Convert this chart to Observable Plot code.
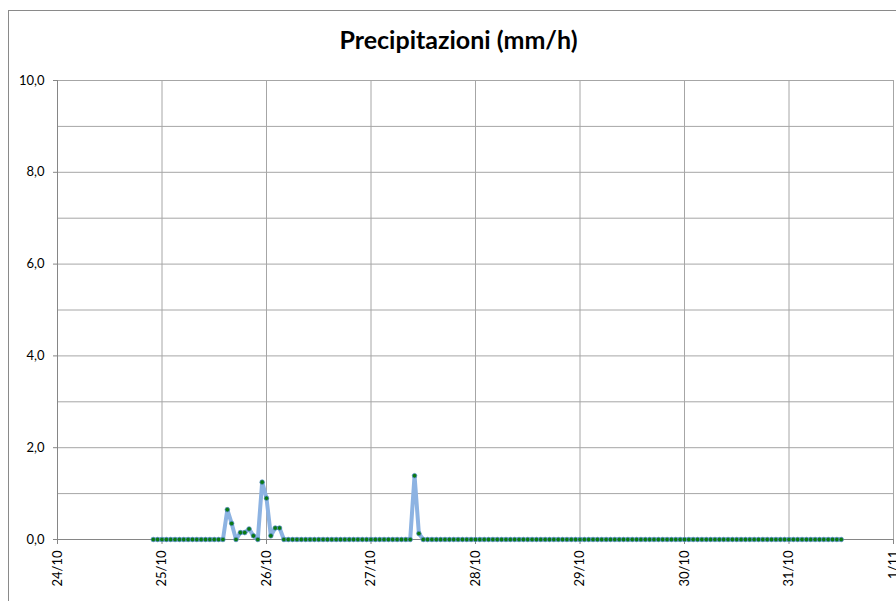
<!DOCTYPE html>
<html>
<head>
<meta charset="utf-8">
<script src="https://cdn.jsdelivr.net/npm/d3@7"></script>
<script src="https://cdn.jsdelivr.net/npm/@observablehq/plot@0.6"></script>
<style>
  html, body { margin: 0; padding: 0; background: #fff; overflow: hidden; }
  #wrap { position: relative; width: 896px; height: 601px; }
  #frame { position: absolute; left: 8px; top: 10px; width: 900px; height: 600px; border: 1px solid #8a8a8a; pointer-events: none; }
  #wrap svg { position: absolute; left: 0; top: 0; }
</style>
</head>
<body>
<div id="wrap"><div id="frame"></div></div>
<script>
// ---- data ----
const title = "Precipitazioni (mm/h)";
const year = 2012;
const dayLabels = ["24/10", "25/10", "26/10", "27/10", "28/10", "29/10", "30/10", "31/10", "1/11"];
const yTickValues = [0, 2, 4, 6, 8, 10];
const yGridValues = [1, 2, 3, 4, 5, 6, 7, 8, 9, 10];
const firstHour = "24/10 22:00";

// hourly precipitation (mm/h), from 24/10 22:00 to 31/10 12:00
const rain_24 = [0, 0];
const rain_25 = [0, 0, 0, 0, 0, 0, 0, 0, 0, 0, 0, 0, 0, 0, 0, 0.65, 0.35, 0, 0.15, 0.15, 0.23, 0.08, 0, 1.25];
const rain_26 = [0.9, 0.08, 0.25, 0.25, 0, 0, 0, 0, 0, 0, 0, 0, 0, 0, 0, 0, 0, 0, 0, 0, 0, 0, 0, 0];
const rain_27 = [0, 0, 0, 0, 0, 0, 0, 0, 0, 0, 1.39, 0.13, 0, 0, 0, 0, 0, 0, 0, 0, 0, 0, 0, 0];
const rain_28 = [0, 0, 0, 0, 0, 0, 0, 0, 0, 0, 0, 0, 0, 0, 0, 0, 0, 0, 0, 0, 0, 0, 0, 0];
const rain_29 = [0, 0, 0, 0, 0, 0, 0, 0, 0, 0, 0, 0, 0, 0, 0, 0, 0, 0, 0, 0, 0, 0, 0, 0];
const rain_30 = [0, 0, 0, 0, 0, 0, 0, 0, 0, 0, 0, 0, 0, 0, 0, 0, 0, 0, 0, 0, 0, 0, 0, 0];
const rain_31 = [0, 0, 0, 0, 0, 0, 0, 0, 0, 0, 0, 0, 0];

// ---- build ----
function parseDay(s) {
  const [d, m] = s.split("/").map(Number);
  return new Date(Date.UTC(year, m - 1, d));
}
const dayTicks = dayLabels.map(parseDay);
const labelOf = new Map(dayTicks.map((d, i) => [+d, dayLabels[i]]));
const [fd, fh] = firstHour.split(" ");
const start = new Date(+parseDay(fd) + (+fh.split(":")[0]) * 3600e3);
const values = [].concat(rain_24, rain_25, rain_26, rain_27, rain_28, rain_29, rain_30, rain_31);
const times = d3.utcHour.range(start, d3.utcHour.offset(start, values.length));
const data = values.map((v, i) => ({t: times[i], v}));

const grid = "#a6a6a6";
const axisColor = "#868686";

const chart = Plot.plot({
  width: 896,
  height: 601,
  marginLeft: 57,
  marginRight: 3,
  marginTop: 80,
  marginBottom: 62,
  style: {fontFamily: "Lato, Carlito, 'Liberation Sans', sans-serif", fontSize: "13px", color: "#000", background: "transparent", overflow: "visible"},
  x: {type: "utc", domain: [dayTicks[0], dayTicks[dayTicks.length - 1]]},
  y: {domain: [0, 10]},
  marks: [
    Plot.ruleY(yGridValues, {stroke: grid, strokeWidth: 1}),
    Plot.ruleX(dayTicks.slice(1), {stroke: grid, strokeWidth: 1}),
    Plot.ruleY([0], {stroke: axisColor, strokeWidth: 1}),
    Plot.ruleX([dayTicks[0]], {stroke: axisColor, strokeWidth: 1}),
    Plot.axisY({ticks: yTickValues, tickFormat: d => d.toFixed(1).replace(".", ","), tickSize: 4, tickPadding: 9, stroke: axisColor, label: null}),
    Plot.axisX({ticks: dayTicks, tickFormat: d => labelOf.get(+d), tickRotate: -90, tickSize: 5, tickPadding: 6, stroke: axisColor, label: null}),
    Plot.line(data, {x: "t", y: "v", stroke: "#8db3e2", strokeWidth: 4, strokeLinejoin: "round", strokeLinecap: "round"}),
    Plot.dot(data, {x: "t", y: "v", r: 2.3, fill: "#0b7a12", stroke: "#5b8fd0", strokeWidth: 0.7}),
    Plot.text([title], {text: d => d, frameAnchor: "top", lineAnchor: "middle", dy: -40, dx: -17, fontSize: 25, fontWeight: "bold", fill: "#000"})
  ]
});
document.getElementById("wrap").appendChild(chart);
</script>
</body>
</html>
